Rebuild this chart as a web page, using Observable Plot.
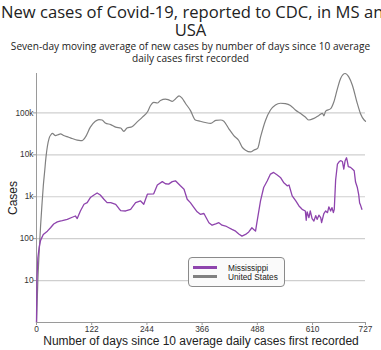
<!DOCTYPE html>
<html><head><meta charset="utf-8">
<script src="https://cdn.jsdelivr.net/npm/d3@7"></script>
<script src="https://cdn.jsdelivr.net/npm/@observablehq/plot@0.6"></script>
<style>
html,body{margin:0;padding:0;background:#fff;overflow:hidden;}
#wrap{position:relative;width:381px;height:350px;overflow:hidden;}
#title{position:absolute;left:0;top:2.7px;width:381px;text-align:center;font-family:"Open Sans",sans-serif;font-size:16.6px;line-height:18.4px;color:#222;}
#title .l1{display:block;white-space:nowrap;text-align:left;padding-left:1px;}
#subtitle{position:absolute;left:10px;top:39.8px;width:361px;text-align:center;font-family:"Open Sans",sans-serif;font-size:10.1px;line-height:12.4px;color:#222;}
#chart{position:absolute;left:0;top:62px;}
#legend{position:absolute;left:188px;top:257px;width:97px;height:30px;box-sizing:border-box;border:1px solid #8a8a8a;border-radius:4px;background:#fafafa;font-family:"Liberation Sans",Arial,sans-serif;font-size:8.3px;color:#222;}
#legend .sw{position:absolute;left:4px;width:24px;height:2.5px;}
#legend .tx{position:absolute;left:39px;line-height:10px;white-space:nowrap;}
</style></head>
<body>
<div id="wrap">
  <div id="title"><span class="l1">New cases of Covid-19, reported to CDC, in MS and</span>USA</div>
  <div id="subtitle">Seven-day moving average of new cases by number of days since 10 average daily cases first recorded</div>
  <div id="chart"></div>
  <div id="legend"></div>
</div>
<script>
// ---- data ----
const xTicks = [0, 122, 244, 366, 488, 610, 727];
const yTicks = [10, 100, 1000, 10000, 100000];
const yTickLabels = ["10", "100", "1k", "10k", "100k"];
const seriesNames = ["Mississippi", "United States"];
const seriesColors = ["#8e44ad", "#808080"];

const usDay = [0,3,6,9,12,15,18,21,24,28,
  32,35,42,48,53,60,71,79,90,97,
  101,108,119,130,138,145,152,164,175,186,
  193,200,211,222,234,245,252,259,267,274,
  285,292,300,307,315,322,329,340,351,362,
  373,385,396,407,414,425,436,447,454,462,
  473,480,489,495,506,517,528,539,550,561,
  572,583,594,602,613,624,632,635,639,650,
  657,665,672,682,690,698,709,716,724,727];
const usCases = [1,10,50,200,630,1800,4000,8900,15800,25100,
  30200,32400,28800,30200,31600,28800,26300,24500,22400,21900,
  21900,26300,45700,63100,69200,67600,57500,52500,45700,43600,
  36300,43600,46800,60300,79400,104700,150000,178000,172000,198000,
  214000,205000,188000,215000,255000,222000,170000,115000,67600,63100,
  58900,56200,66100,67600,63100,41700,28800,21900,15500,12900,
  11700,12900,14500,26300,66100,117500,155000,170000,166000,151000,
  117500,97700,79400,67600,74100,87100,97700,85100,110000,126000,
  182000,380000,661000,870000,724000,457000,166000,95500,67600,63100];

const msDay = [0,1,3,6,9,15,24,31,38,46,
  52,57,68,79,86,90,97,105,112,119,
  127,134,141,149,156,164,175,182,186,197,
  208,219,230,237,245,259,267,278,285,292,
  300,307,318,326,333,340,348,355,362,370,
  375,381,388,396,403,410,418,425,432,440,
  447,454,462,469,476,480,484,487,495,502,
  510,517,524,532,539,546,554,558,565,573,
  580,587,594,596,598,602,605,609,613,617,
  620,624,628,630,635,639,643,646,650,653,
  656,658,661,665,669,672,676,679,682,685,
  687,689,694,698,702,705,709,712,714,716,
  719];
const msCases = [1,11,35,63,91,126,151,182,224,251,
  263,269,288,324,347,302,457,661,724,955,
  1100,1230,1100,871,724,724,661,525,468,457,
  501,724,794,661,1150,1175,1905,2290,2040,1995,
  2290,2400,1820,1510,871,724,550,437,380,398,
  316,240,209,224,240,209,200,182,166,151,
  129,115,126,145,182,166,151,240,794,1660,
  2400,3470,3800,3310,2880,2190,1820,1905,1050,794,
  603,501,457,275,437,316,457,302,263,355,
  288,363,316,240,398,457,417,575,457,550,
  417,501,2510,6030,6920,7240,6920,4570,7240,8510,
  6920,5250,5010,4570,4170,2240,1660,1120,708,631,
  501];

const xLabel = "Number of days since 10 average daily cases first recorded";
const yLabel = "Cases";

const us = usDay.map((d, i) => ({day: d, cases: usCases[i], series: seriesNames[1]}));
const ms = msDay.map((d, i) => ({day: d, cases: msCases[i], series: seriesNames[0]}));
const yMax = d3.max([...usCases, ...msCases]);

const chart = Plot.plot({
  width: 381,
  height: 288,
  marginTop: 11,
  marginBottom: 28,
  marginLeft: 36,
  marginRight: 16,
  style: {fontFamily: "'Liberation Sans', Arial, sans-serif", fontSize: "8.3px", color: "#333", background: "transparent", overflow: "visible"},
  x: {domain: [0, 727]},
  y: {type: "log", domain: [1, yMax]},
  marks: [
    Plot.ruleY(yTicks, {stroke: "#cfcfcf", strokeWidth: 1.2}),
    Plot.ruleX([0], {stroke: "#9a9a9a", strokeWidth: 1}),
    Plot.ruleY([1], {stroke: "#9a9a9a", strokeWidth: 1}),
    Plot.line(us, {x: "day", y: "cases", stroke: seriesColors[1], strokeWidth: 1.2, curve: "monotone-x"}),
    Plot.line(ms, {x: "day", y: "cases", stroke: seriesColors[0], strokeWidth: 1.3}),
    Plot.axisX({ticks: xTicks, tickFormat: d => String(d), tickSize: 3, tickPadding: 1, stroke: "#9a9a9a", fill: "#333",
      label: xLabel, labelAnchor: "center", labelArrow: "none", labelOffset: 22}),
    Plot.axisY({ticks: yTicks, tickFormat: d => yTickLabels[yTicks.indexOf(d)], tickSize: 3, tickPadding: 0, stroke: "#9a9a9a", fill: "#333",
      label: yLabel, labelAnchor: "center", labelArrow: "none", labelOffset: 28})
  ]
});
document.getElementById("chart").appendChild(chart);

// enlarge axis titles
chart.querySelectorAll('[aria-label="x-axis label"] text, [aria-label="y-axis label"] text').forEach(t => {
  t.setAttribute("font-size", "12px");
  t.style.fontSize = "12px";
  t.setAttribute("fill", "#222");
});

// legend
const lg = document.getElementById("legend");
seriesNames.forEach((name, i) => {
  const sw = document.createElement("div");
  sw.className = "sw";
  sw.style.top = (8 + i * 9.4) + "px";
  sw.style.background = seriesColors[i];
  lg.appendChild(sw);
  const tx = document.createElement("div");
  tx.className = "tx";
  tx.style.top = (4.8 + i * 9) + "px";
  tx.textContent = name;
  lg.appendChild(tx);
});
</script>
</body></html>
